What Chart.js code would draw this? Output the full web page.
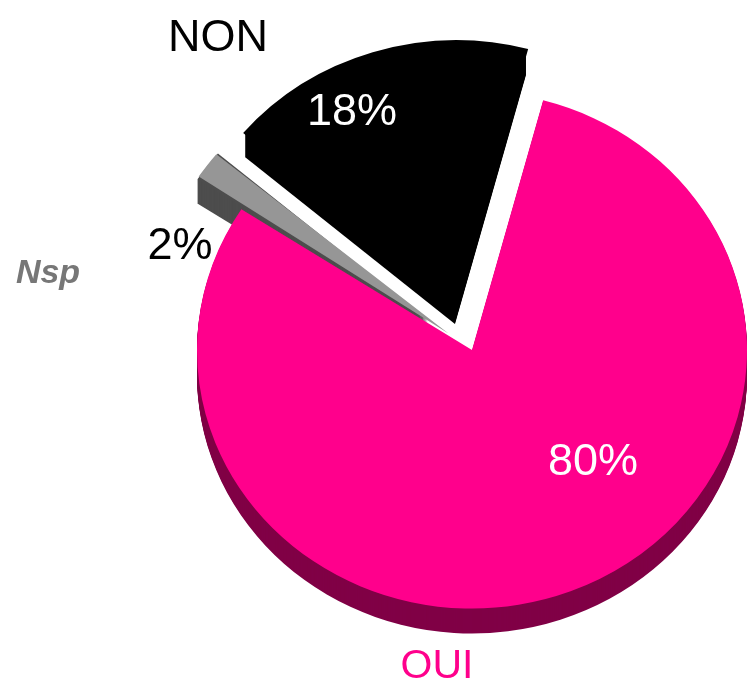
<!DOCTYPE html>
<html>
<head>
<meta charset="utf-8">
<script src="https://cdn.jsdelivr.net/npm/chart.js@4.4.1/dist/chart.umd.min.js"></script>
<style>
  body { margin: 0; background: #fff; }
  #wrap { width: 747px; height: 683px; position: relative; }
</style>
</head>
<body>
<div id="wrap"><canvas id="pie"></canvas></div>
<script>
const categories = ["OUI", "Nsp", "NON"];
const values = [80, 2, 18];
const topColors = ["#FF008C", "#969696", "#000000"];
const sideColors = ["#800046", "#4D4D4D", "#000000"];
const explode = [0, 117, 208];

const DEPTH = 25;     // height of the 3D side, px
const SQUISH = 0.94;  // vertical tilt of the pie

// label spots, relative to the pie centre
const pctSpots = [[121, 125], [-292, -91], [-120, -225]];
const pctColors = ["#FFFFFF", "#000000", "#FFFFFF"];
const catSpots = [[-35, 328], [-424, -67], [-254, -299]];
const catColors = ["#FF008C", "#777777", "#000000"];
const catFonts = ["41px Arial, 'Liberation Sans'", "italic bold 34px Arial, 'Liberation Sans'", "45px Arial, 'Liberation Sans'"];

function squish(ctx, x, y) {
  ctx.translate(x, y);
  ctx.scale(1, SQUISH);
  ctx.translate(-x, -y);
}

// same path as ArcElement.draw, offset included
function arcPath(ctx, arc) {
  const {x, y, startAngle, endAngle, outerRadius} = arc.getProps(["x", "y", "startAngle", "endAngle", "outerRadius"]);
  const off = (arc.options.offset || 0) / 4;
  const fix = 1 - Math.sin(Math.min(Math.PI, endAngle - startAngle));
  const d = off + off * fix;
  const mid = (startAngle + endAngle) / 2;
  const cx = x + Math.cos(mid) * d;
  const cy = y + Math.sin(mid) * d;
  ctx.beginPath();
  ctx.moveTo(cx, cy);
  ctx.arc(cx, cy, outerRadius, startAngle, endAngle);
  ctx.closePath();
}

const pie3d = {
  id: "pie3d",
  beforeDatasetsDraw(chart) {
    const ctx = chart.ctx;
    const arcs = chart.getDatasetMeta(0).data;
    const {x, y} = arcs[0];
    for (let d = DEPTH; d >= 1; d--) {
      arcs.forEach((arc, i) => {
        ctx.save();
        ctx.translate(0, d);
        squish(ctx, x, y);
        arcPath(ctx, arc);
        ctx.fillStyle = sideColors[i];
        ctx.fill();
        ctx.restore();
      });
    }
    ctx.save();
    squish(ctx, x, y);
  },
  afterDatasetsDraw(chart) {
    const ctx = chart.ctx;
    ctx.restore();
    const {x, y} = chart.getDatasetMeta(0).data[0];
    ctx.save();
    ctx.textAlign = "center";
    ctx.textBaseline = "alphabetic";
    values.forEach((v, i) => {
      ctx.font = "45px Arial, 'Liberation Sans'";
      ctx.fillStyle = pctColors[i];
      ctx.fillText(v + "%", x + pctSpots[i][0], y + pctSpots[i][1]);
      ctx.font = catFonts[i];
      ctx.fillStyle = catColors[i];
      ctx.fillText(categories[i], x + catSpots[i][0], y + catSpots[i][1]);
    });
    ctx.restore();
  }
};

new Chart("pie", {
  type: "pie",
  data: {
    labels: categories,
    datasets: [{
      data: values,
      backgroundColor: topColors,
      borderWidth: 0,
      offset: explode,
      clip: false
    }]
  },
  options: {
    responsive: true,
    maintainAspectRatio: false,
    animation: false,
    events: [],
    rotation: 15,
    radius: 275,
    layout: { padding: { left: 197, right: 0, top: 17, bottom: 0 } },
    plugins: {
      legend: false,
      title: false,
      tooltip: { enabled: false }
    }
  },
  plugins: [pie3d]
});
</script>
</body>
</html>
